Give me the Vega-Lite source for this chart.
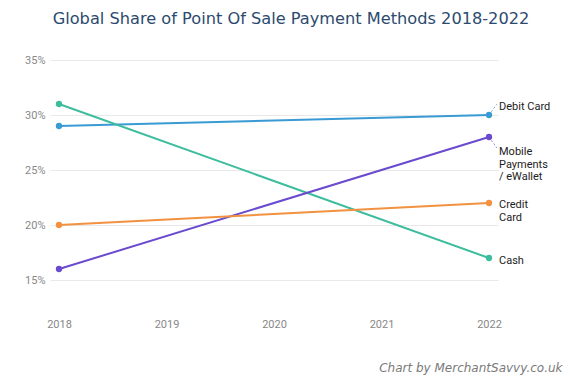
{
  "$schema": "https://vega.github.io/schema/vega-lite/v6.json",
  "width": 448,
  "height": 253,
  "autosize": {"type": "none"},
  "padding": {"left": 50, "top": 60, "right": 75, "bottom": 66},
  "background": "white",
  "title": {
    "text": "Global Share of Point Of Sale Payment Methods 2018-2022",
    "font": "DejaVu Sans",
    "fontSize": 16.2,
    "fontWeight": "normal",
    "color": "#2c4a6e",
    "anchor": "middle",
    "dx": 17,
    "offset": 27
  },
  "config": {"view": {"stroke": null}},
  "data": {
    "values": [
      {"method": "Debit Card", "year": 2018, "share": 29},
      {"method": "Debit Card", "year": 2022, "share": 30},
      {"method": "Cash", "year": 2018, "share": 31},
      {"method": "Cash", "year": 2022, "share": 17},
      {"method": "Mobile Payments / eWallet", "year": 2018, "share": 16},
      {"method": "Mobile Payments / eWallet", "year": 2022, "share": 28},
      {"method": "Credit Card", "year": 2018, "share": 20},
      {"method": "Credit Card", "year": 2022, "share": 22}
    ]
  },
  "encoding": {
    "x": {
      "field": "year",
      "type": "quantitative",
      "scale": {"domain": [2017.9163, 2022.0837], "nice": false, "zero": false},
      "axis": {
        "values": [2018, 2019, 2020, 2021, 2022],
        "format": "d",
        "grid": false,
        "domain": false,
        "ticks": false,
        "labelFont": "Roboto",
        "labelFontSize": 11,
        "labelColor": "#888888",
        "labelPadding": 5,
        "title": "Chart by MerchantSavvy.co.uk",
        "titleFont": "DejaVu Sans",
        "titleFontSize": 12,
        "titleFontStyle": "italic",
        "titleFontWeight": "normal",
        "titleColor": "#7a7a7a",
        "titleAlign": "right",
        "titleAnchor": "end",
        "titleBaseline": "alphabetic",
        "titleX": 512,
        "titleY": 58
      }
    },
    "y": {
      "field": "share",
      "type": "quantitative",
      "scale": {"domain": [12, 35], "nice": false, "zero": false},
      "axis": {
        "values": [15, 20, 25, 30, 35],
        "labelExpr": "datum.value + '%'",
        "domain": false,
        "ticks": false,
        "grid": true,
        "gridColor": "#e8e8e8",
        "labelFont": "Roboto",
        "labelFontSize": 11,
        "labelColor": "#888888",
        "labelPadding": 5,
        "title": null
      }
    },
    "color": {
      "field": "method",
      "type": "nominal",
      "scale": {
        "domain": ["Debit Card", "Cash", "Mobile Payments / eWallet", "Credit Card"],
        "range": ["#3a9ad3", "#3dbd9e", "#6a4bcf", "#f29240"]
      },
      "legend": null
    }
  },
  "layer": [
    {"mark": {"type": "line", "strokeWidth": 2}},
    {"mark": {"type": "circle", "size": 40, "opacity": 1}},
    {
      "transform": [{"filter": "datum.year == 2022 && datum.method == 'Debit Card'"}],
      "mark": {"type": "rule", "x2Offset": 8, "y2Offset": -11, "strokeDash": [2, 2], "strokeWidth": 1, "opacity": 0.7},
      "encoding": {"x2": {"field": "year"}, "y2": {"field": "share"}}
    },
    {
      "transform": [{"filter": "datum.year == 2022 && datum.method == 'Mobile Payments / eWallet'"}],
      "mark": {"type": "rule", "x2Offset": 8, "y2Offset": 11, "strokeDash": [2, 2], "strokeWidth": 1, "opacity": 0.7},
      "encoding": {"x2": {"field": "year"}, "y2": {"field": "share"}}
    },
    {
      "transform": [{"filter": "datum.year == 2022 && datum.method == 'Debit Card'"}],
      "mark": {"type": "text", "align": "left", "baseline": "middle", "dx": 10, "dy": -8, "font": "Roboto", "fontSize": 11, "color": "#222222"},
      "encoding": {"text": {"value": "Debit Card"}, "color": {"value": "#222222"}}
    },
    {
      "transform": [{"filter": "datum.year == 2022 && datum.method == 'Mobile Payments / eWallet'"}],
      "mark": {"type": "text", "align": "left", "baseline": "top", "dx": 10, "dy": 9, "font": "Roboto", "fontSize": 11, "lineHeight": 12.5, "color": "#222222"},
      "encoding": {"text": {"value": ["Mobile", "Payments", "/ eWallet"]}, "color": {"value": "#222222"}}
    },
    {
      "transform": [{"filter": "datum.year == 2022 && datum.method == 'Credit Card'"}],
      "mark": {"type": "text", "align": "left", "baseline": "top", "dx": 10, "dy": -4, "font": "Roboto", "fontSize": 11, "lineHeight": 12.5, "color": "#222222"},
      "encoding": {"text": {"value": ["Credit", "Card"]}, "color": {"value": "#222222"}}
    },
    {
      "transform": [{"filter": "datum.year == 2022 && datum.method == 'Cash'"}],
      "mark": {"type": "text", "align": "left", "baseline": "middle", "dx": 10, "dy": 3, "font": "Roboto", "fontSize": 11, "color": "#222222"},
      "encoding": {"text": {"value": "Cash"}, "color": {"value": "#222222"}}
    }
  ]
}
